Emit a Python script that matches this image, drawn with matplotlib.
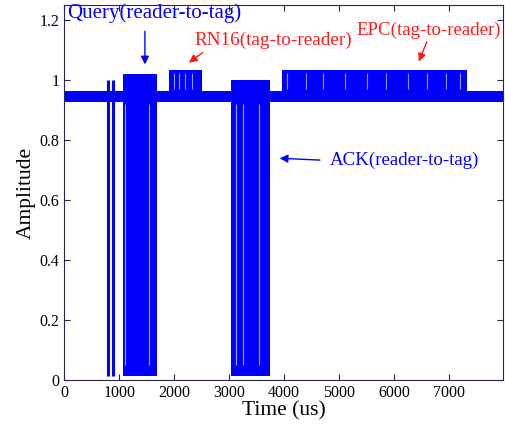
import numpy as np
import matplotlib.pyplot as plt

plt.rcParams['font.family'] = ['Liberation Serif', 'DejaVu Serif']

## Values ##

# time range of the trace (us)
t_end = 7980

# idle carrier level (band between low and high)
base_lo, base_hi = 0.928, 0.965

# reader-to-tag bursts: dense dips down to ~0.015
query_dips = [800, 880]              # single isolated dips before the Query burst
query_block = (1073, 1680)
query_gaps = [1104, 1545]            # lighter gaps inside the burst
ack_block = (3031, 3740)
ack_gaps = [3122, 3243, 3545]
dip_lo, dip_hi = 0.015, 1.0
query_top = 1.02

# tag-to-reader backscatter: toggling between ~0.955 and ~1.035
rn16_block = (1910, 2498)
epc_block = (3953, 7327)
tag_lo, tag_hi = 0.955, 1.035
tag_gaps = [1990, 2080, 2200, 2330, 4050, 4400, 4700, 5100, 5500, 5850,
            6250, 6600, 6950, 7200]

blue = '#0000ff'
red = '#ff1a1a'

fig = plt.figure(figsize=(5.06, 4.29), dpi=100)
ax = fig.add_axes([0.127, 0.114, 0.867, 0.874])

# idle carrier
ax.fill_between([0, t_end], base_lo, base_hi, color=blue, lw=0)

# tag responses
for blk in [rn16_block, epc_block]:
    ax.fill_between(blk, tag_lo, tag_hi, color=blue, lw=0)
ax.vlines(tag_gaps, 0.97, 1.025, color='#8f9cff', lw=0.8)

# reader pulses
ax.vlines(query_dips, dip_lo, 1.0, color=blue, lw=2.2)
ax.fill_between(query_block, dip_lo, query_top, color=blue, lw=0)
ax.fill_between(ack_block, dip_lo, dip_hi, color=blue, lw=0)
ax.vlines(query_gaps + ack_gaps, 0.05, 0.92, color='#9fa8ff', lw=0.8)

ax.set_xlim(0, t_end)
ax.set_ylim(0, 1.25)
ax.set_xticks(np.arange(0, 8000, 1000))
ax.set_yticks([0, 0.2, 0.4, 0.6, 0.8, 1.0, 1.2])
ax.set_yticklabels(['0', '0.2', '0.4', '0.6', '0.8', '1', '1.2'])
ax.tick_params(direction='in', top=True, right=True, labelsize=11.5, length=4,
               color='#262650')
for s in ax.spines.values():
    s.set_color('#262650')
ax.set_xlabel('Time (us)', fontsize=15.5, labelpad=0)
ax.set_ylabel('Amplitude', fontsize=15.5, labelpad=3)

# annotations
arrow = dict(arrowstyle='-|>', lw=1.0, mutation_scale=12)
ax.annotate('', xy=(1467, 1.043), xytext=(1467, 1.172),
            arrowprops=dict(arrow, color=blue))
ax.text(60, 1.225, 'Query(reader-to-tag)', color=blue, fontsize=15, va='center')
ax.annotate('', xy=(2225, 1.053), xytext=(2560, 1.097),
            arrowprops=dict(arrow, color=red))
ax.text(2370, 1.133, 'RN16(tag-to-reader)', color=red, fontsize=13.8, va='center')
ax.annotate('', xy=(6430, 1.053), xytext=(6615, 1.137),
            arrowprops=dict(arrow, color=red))
ax.text(5320, 1.167, 'EPC(tag-to-reader)', color=red, fontsize=13.6, va='center')
ax.annotate('', xy=(3867, 0.74), xytext=(4700, 0.733),
            arrowprops=dict(arrow, color=blue))
ax.text(4830, 0.733, 'ACK(reader-to-tag)', color=blue, fontsize=13.6, va='center')

plt.savefig('out.png')
